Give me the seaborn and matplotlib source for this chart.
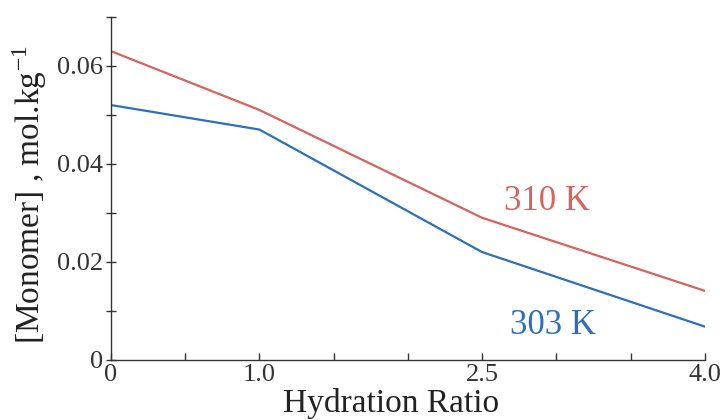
import numpy as np
import pandas as pd
import matplotlib
matplotlib.use("Agg")
import matplotlib.pyplot as plt
import seaborn as sns
from matplotlib.ticker import MultipleLocator, FixedLocator, FixedFormatter

# Monomer concentration vs hydration ratio at two temperatures
hydration = [0.0, 1.0, 2.5, 4.0]
monomer_310 = [0.063, 0.051, 0.029, 0.0141]
monomer_303 = [0.052, 0.047, 0.022, 0.0068]
series_names = ["310 K", "303 K"]
x_tick_values = [0.0, 1.0, 2.5, 4.0]
x_tick_labels = ["0", "1.0", "2.5", "4.0"]
y_tick_values = [0.0, 0.02, 0.04, 0.06]
y_tick_labels = ["0", "0.02", "0.04", "0.06"]

red = "#d8625c"
blue = "#2e6ebd"

df = pd.DataFrame({
    "Hydration Ratio": hydration * 2,
    "Monomer": monomer_310 + monomer_303,
    "T": [series_names[0]] * len(hydration) + [series_names[1]] * len(hydration),
})

sns.set_theme(style="ticks")
plt.rcParams["font.family"] = ["Liberation Serif", "DejaVu Serif"]
plt.rcParams["mathtext.fontset"] = "stix"

fig = plt.figure(figsize=(7.2, 4.2), dpi=100)
ax = fig.add_axes([0.154, 0.143, 0.825, 0.817])

sns.lineplot(data=df, x="Hydration Ratio", y="Monomer", hue="T",
             palette={series_names[0]: red, series_names[1]: blue},
             linewidth=1.6, legend=False, ax=ax)

ax.set_xlim(0, 4.0)
ax.set_ylim(0, 0.07)
sns.despine(ax=ax)
for s in ("left", "bottom"):
    ax.spines[s].set_color("#333333")
    ax.spines[s].set_linewidth(1.0)

ax.xaxis.set_major_locator(FixedLocator(x_tick_values))
ax.xaxis.set_major_formatter(FixedFormatter(x_tick_labels))
ax.xaxis.set_minor_locator(MultipleLocator(0.5))
ax.yaxis.set_major_locator(FixedLocator(y_tick_values))
ax.yaxis.set_major_formatter(FixedFormatter(y_tick_labels))
ax.yaxis.set_minor_locator(MultipleLocator(0.01))

ax.tick_params(axis="x", which="both", direction="in", length=5, width=1,
               color="#333333", labelsize=19, pad=3, labelcolor="#333333")
ax.tick_params(axis="y", which="both", direction="inout", length=7, width=1,
               color="#333333", labelsize=19, pad=2, labelcolor="#333333")

ax.set_xlabel("Hydration Ratio", fontsize=24, color="#222222")
ax.xaxis.set_label_coords(0.472, -0.083)
ax.set_ylabel(r"[Monomer] , mol.kg$^{\mathregular{-1}}$", fontsize=24, color="#222222")
ax.yaxis.set_label_coords(-0.105, 0.48)

ax.text(2.94, 0.0323, series_names[0], color=red, fontsize=25,
        ha="center", va="center")
ax.text(2.98, 0.0071, series_names[1], color=blue, fontsize=25,
        ha="center", va="center")

fig.savefig("out.png", dpi=100)
